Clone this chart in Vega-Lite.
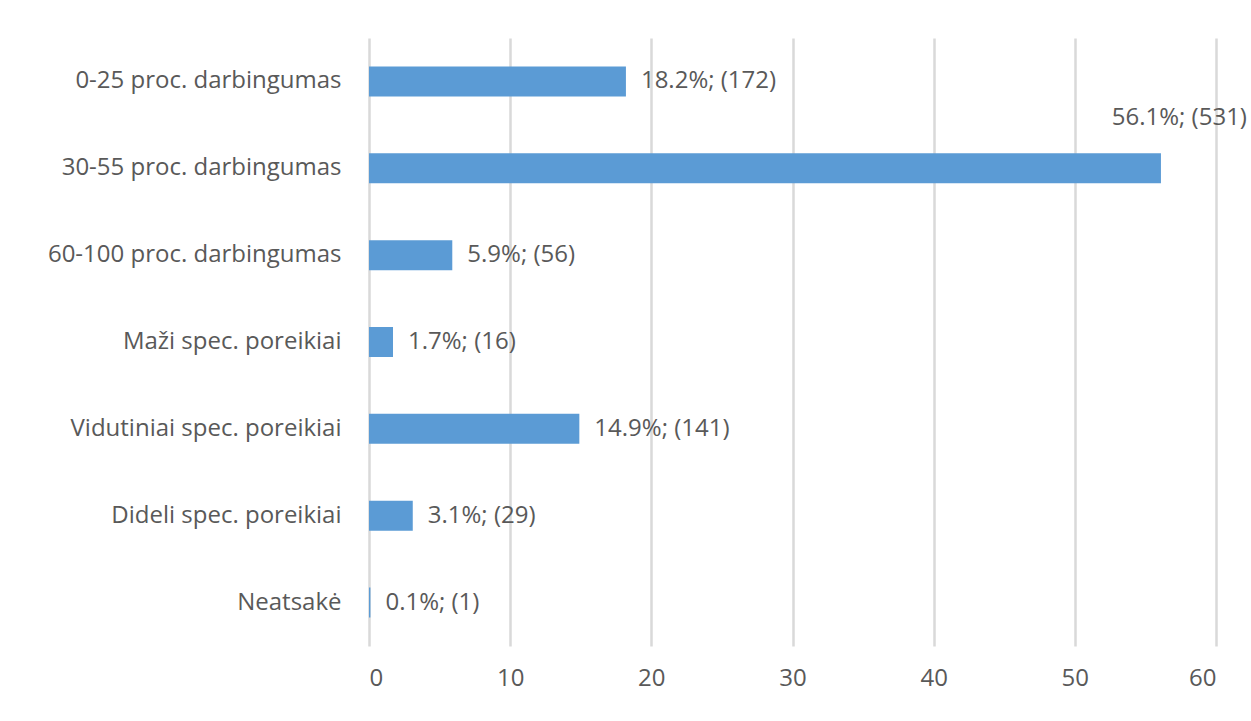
{
  "$schema": "https://vega.github.io/schema/vega-lite/v6.json",
  "width": 847,
  "height": 608,
  "autosize": {"type": "none"},
  "padding": {"left": 369, "top": 38, "right": 35, "bottom": 75},
  "background": "white",
  "config": {
    "view": {"stroke": null},
    "font": "Open Sans",
    "axis": {"labelFont": "Open Sans", "labelColor": "#595959", "labelFontSize": 24}
  },
  "data": {
    "values": [
      {"category": "0-25 proc. darbingumas", "pct": 18.2, "count": 172},
      {"category": "30-55 proc. darbingumas", "pct": 56.1, "count": 531},
      {"category": "60-100 proc. darbingumas", "pct": 5.9, "count": 56},
      {"category": "Maži spec. poreikiai", "pct": 1.7, "count": 16},
      {"category": "Vidutiniai spec. poreikiai", "pct": 14.9, "count": 141},
      {"category": "Dideli spec. poreikiai", "pct": 3.1, "count": 29},
      {"category": "Neatsakė", "pct": 0.1, "count": 1}
    ]
  },
  "encoding": {
    "y": {
      "field": "category", "type": "nominal", "sort": null, "title": null,
      "axis": {"domain": false, "ticks": false, "labelPadding": 28, "labelLimit": 400}
    },
    "x": {
      "field": "pct", "type": "quantitative", "title": null,
      "scale": {"domain": [0, 60], "nice": false},
      "axis": {"values": [0,10,20,30,40,50,60], "domain": false, "ticks": false, "labelPadding": 20, "gridColor": "#d9d9d9", "gridWidth": 2.5}
    }
  },
  "layer": [
    {"mark": {"type": "bar", "color": "#5b9bd5", "size": 30}},
    {
      "transform": [{"filter": "datum.pct < 50"}, {"calculate": "format(datum.pct, '.1f') + '%; (' + datum.count + ')'", "as": "label"}],
      "mark": {"type": "text", "align": "left", "dx": 15, "fontSize": 24, "color": "#595959", "font": "Open Sans"},
      "encoding": {"text": {"field": "label"}}
    },
    {
      "transform": [{"filter": "datum.pct >= 50"}, {"calculate": "format(datum.pct, '.1f') + '%; (' + datum.count + ')'", "as": "label"}],
      "mark": {"type": "text", "align": "right", "dx": 86, "dy": -50, "fontSize": 24, "color": "#595959", "font": "Open Sans"},
      "encoding": {"text": {"field": "label"}}
    }
  ]
}
